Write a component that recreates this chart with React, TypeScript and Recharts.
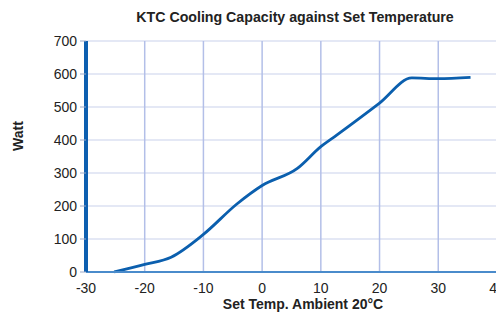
import React from "react";
import { LineChart, Line, XAxis, YAxis, CartesianGrid, ReferenceLine } from "recharts";

const temps = [-25.2, -20, -15.5, -10, -4.3, 0, 6, 10, 12.7, 20, 25.5, 30, 35.5];
const watts = [0, 23, 45, 114, 206, 262, 314, 380, 415, 512, 588, 586, 590];
const xTicks = [-30, -20, -10, 0, 10, 20, 30, 40];
const yTicks = [0, 100, 200, 300, 400, 500, 600, 700];

const data = temps.map((t, i) => ({ t, w: watts[i] }));

const FONT = "'Liberation Sans', Arial, Helvetica, sans-serif";
const labelStyle = { fontWeight: "bold" as const, fill: "#222", fontFamily: FONT };

export default function App() {
  return (
    <div style={{ marginLeft: -8, marginTop: -8, width: 504, height: 312, fontFamily: FONT }}>
      <LineChart width={504} height={312} data={data} margin={{ top: 41, right: 0, bottom: 0, left: 8 }}>
        <CartesianGrid vertical={false} stroke="#dbe1f2" strokeWidth={1.5} />
        <CartesianGrid horizontal={false} stroke="#b3bfe8" strokeWidth={1.5} />
        <XAxis
          dataKey="t"
          type="number"
          domain={[-30, 41.2]}
          ticks={xTicks}
          allowDataOverflow
          height={40}
          axisLine={{ stroke: "#4a8bcb", strokeWidth: 2 }}
          tickLine={false}
          tickMargin={5}
          tick={{ fill: "#222", fontSize: 14, fontFamily: FONT }}
          interval={0}
        />
        <YAxis
          type="number"
          domain={[0, 700]}
          ticks={yTicks}
          width={78}
          axisLine={{ stroke: "#0d5fb0", strokeWidth: 4 }}
          tickLine={{ stroke: "#9aa8c8" }}
          tickSize={6}
          tickMargin={3}
          tick={{ fill: "#222", fontSize: 14, fontFamily: FONT }}
          interval={0}
        />
        <ReferenceLine x={-30} stroke="#0d5fb0" strokeWidth={4} segment={[{ x: -30, y: 0 }, { x: -30, y: 700 }]} />
        <Line
          type="monotone"
          dataKey="w"
          stroke="#0b5fae"
          strokeWidth={2.8}
          dot={false}
          isAnimationActive={false}
        />
        <text x={295} y={22} textAnchor="middle" style={{ ...labelStyle, fontSize: 14.2 }}>
          KTC Cooling Capacity against Set Temperature
        </text>
        <text x={303} y={309} textAnchor="middle" style={{ ...labelStyle, fontSize: 14 }}>
          Set Temp. Ambient 20°C
        </text>
        <text x={23} y={136} textAnchor="middle" transform="rotate(-90 23 136)" style={{ ...labelStyle, fontSize: 14 }}>
          Watt
        </text>
      </LineChart>
    </div>
  );
}
